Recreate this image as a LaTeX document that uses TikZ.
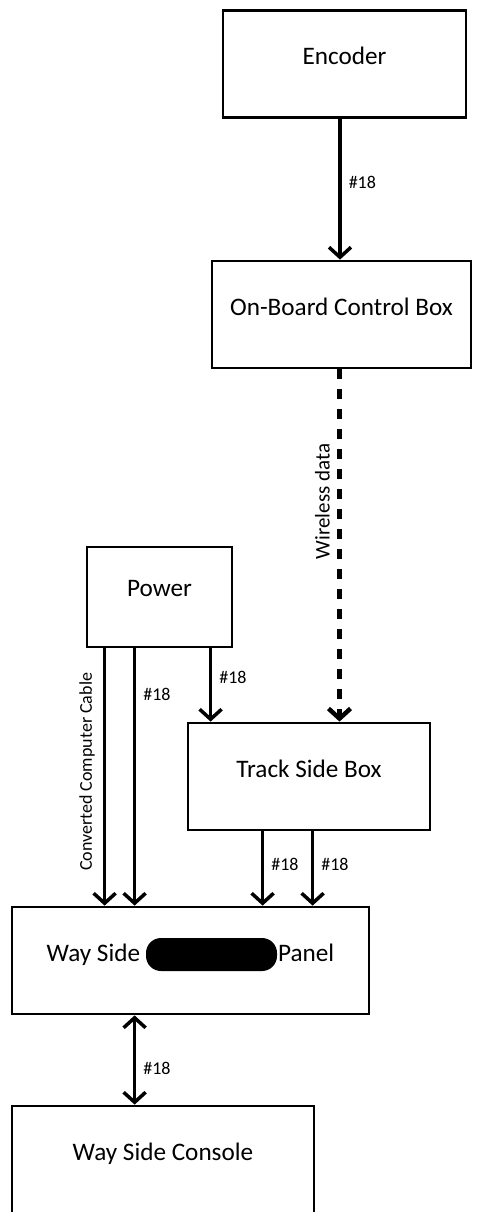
\documentclass[tikz,border=0pt]{standalone}
\usepackage{fontspec}
\setmainfont{Carlito}
\usetikzlibrary{arrows.meta,positioning,calc}

\begin{document}
\begin{tikzpicture}[x=1pt,y=-1pt,
  >={Straight Barb[length=10pt,width=22pt]},
  box/.style={draw, line width=2.8pt, minimum width=#1, minimum height=107pt, inner sep=0pt,
    font=\fontsize{25.2}{30}\selectfont, text height=18pt, text depth=16pt},
  wire/.style={line width=3.5pt, ->},
  tag/.style={font=\fontsize{18}{21}\selectfont, right, inner sep=2pt, xshift=5pt},
  sidetext/.style={rotate=90, anchor=south, inner sep=#1}]
\useasboundingbox (0,0) rectangle (477,1212);
% Boxes
\node[box=243pt] (enc) at (344.5,64) {Encoder};
\node[box=259pt] (obc) at (341.5,314.5) {On-Board Control Box};
\node[box=145pt, minimum height=100pt, text depth=20pt] (pow) at (159.5,597) {Power};
\node[box=242pt] (tsb) at (309,776.5) {Track Side Box};
\node[box=357pt] (wsp) at (190.5,960.5) {Way Side\hspace{138pt}Panel};
\node[box=302pt, minimum height=112pt, text depth=22pt] (wsc) at (163,1162) {Way Side Console};
% blacked-out word
\node[fill=black, rounded corners=15pt, minimum width=131pt, minimum height=33pt, inner sep=0pt] (mask) at (211.5,954.5) {};
% Encoder to on-board box
\draw[wire] ([xshift=-4.5pt]enc.south) -- node[tag, pos=0.45] {\#18} ([xshift=-4.5pt]enc.south |- obc.north);
% Wireless link
\draw[wire, line width=4.5pt, dash pattern=on 10pt off 10pt] ([xshift=-2pt]obc.south) --
  node[sidetext=7.5pt, pos=0.375, font=\fontsize{21}{25}\selectfont] {Wireless data} ([xshift=-2pt]obc.south |- tsb.north);
% Power feeds
\draw[wire] ([xshift=19pt]pow.south west) --
  node[sidetext=8pt, pos=0.48, font=\fontsize{18}{21}\selectfont] {Converted Computer Cable} ([xshift=19pt]pow.south west |- wsp.north);
\draw[wire] ([xshift=49pt]pow.south west) -- node[tag, pos=0.18] {\#18} ([xshift=49pt]pow.south west |- wsp.north);
\draw[wire] ([xshift=125pt]pow.south west) -- node[tag, pos=0.4] {\#18} ([xshift=125pt]pow.south west |- tsb.north);
% Track side box to panel
\foreach \dx in {76,126} {
  \draw[wire] ([xshift=\dx pt]tsb.south west) -- node[tag, pos=0.45] {\#18} ([xshift=\dx pt]tsb.south west |- wsp.north);
}
% Panel to console
\draw[wire, <->] ([xshift=124pt]wsp.south west) -- node[tag, pos=0.59] {\#18} ([xshift=124pt]wsp.south west |- wsc.north);
\end{tikzpicture}
\end{document}
